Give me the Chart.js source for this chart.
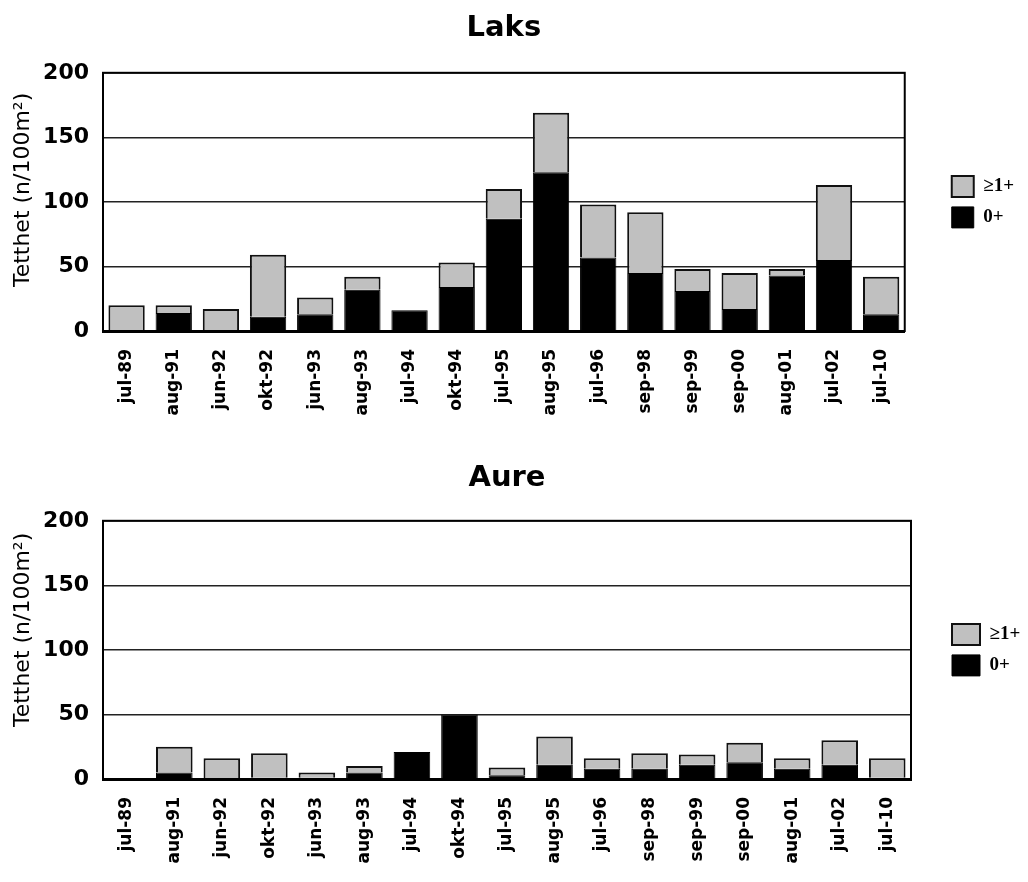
<!DOCTYPE html>
<html>
<head>
<meta charset="utf-8">
<script src="https://cdn.jsdelivr.net/npm/chart.js@4.4.0/dist/chart.umd.min.js"></script>
<style>
  html, body { margin: 0; padding: 0; background: #fff; width: 1028px; height: 882px; overflow: hidden; }
  .panel { position: absolute; left: 0; width: 1028px; height: 441px; }
</style>
</head>
<body>
<div class="panel" style="top:0"><canvas id="laks"></canvas></div>
<div class="panel" style="top:441px"><canvas id="aure"></canvas></div>
<script>
// Sampling dates
const categories = ['jul-89', 'aug-91', 'jun-92', 'okt-92', 'jun-93', 'aug-93', 'jul-94', 'okt-94', 'jul-95',
                    'aug-95', 'jul-96', 'sep-98', 'sep-99', 'sep-00', 'aug-01', 'jul-02', 'jul-10'];

// Density per 100 m², salmon (Laks)
const laksYoung = [0, 14, 0, 11, 13, 32, 16, 34, 87, 123, 57, 45, 31, 17, 43, 55, 13];   // 0+
const laksOlder = [20, 6, 17, 48, 13, 10, 0, 19, 23, 46, 41, 47, 17, 28, 5, 58, 29];     // ≥1+

// Density per 100 m², trout (Aure)
const aureYoung = [0, 5, 0, 1, 1, 5, 21, 50, 3, 11, 8, 8, 11, 13, 8, 11, 1];             // 0+
const aureOlder = [0, 20, 16, 19, 4, 5, 0, 0, 6, 22, 8, 12, 8, 15, 8, 19, 15];           // ≥1+

const yTicks = [0, 50, 100, 150, 200];
const seriesNames = ['0+', '≥1+'];
const yTitle = 'Tetthet (n/100m²)';

const FONT = "'DejaVu Sans', Verdana, sans-serif";

// Box around the plotting area plus the rotated y-axis title
const framePlugin = {
  id: 'frame',
  afterDatasetsDraw(chart) {
    const { ctx, chartArea: a } = chart;
    ctx.save();
    ctx.strokeStyle = '#000';
    ctx.lineWidth = 2;
    ctx.strokeRect(a.left, a.top, a.right - a.left, a.bottom - a.top);
    ctx.restore();
  },
  afterDraw(chart, args, opts) {
    const { ctx, chartArea: a } = chart;
    ctx.save();
    ctx.translate(opts.titleX, (a.top + a.bottom) / 2 + opts.titleShift);
    ctx.rotate(-Math.PI / 2);
    ctx.font = '22px ' + FONT;
    ctx.fillStyle = '#000';
    ctx.textAlign = 'center';
    ctx.textBaseline = 'middle';
    ctx.fillText(yTitle, 0, 0);
    ctx.restore();
  }
};

function makeChart(id, title, young, older, o) {
  return new Chart(document.getElementById(id), {
    type: 'bar',
    data: {
      labels: categories,
      datasets: [
        { label: seriesNames[0], data: young, backgroundColor: '#000', borderColor: '#000', borderWidth: 1,
          categoryPercentage: 1, barPercentage: 0.77 },
        { label: seriesNames[1], data: older, backgroundColor: '#c0c0c0', borderColor: '#111', borderWidth: 2,
          categoryPercentage: 1, barPercentage: 0.77 }
      ]
    },
    plugins: [framePlugin],
    options: {
      responsive: true,
      maintainAspectRatio: false,
      animation: false,
      layout: { padding: { left: 0, right: o.padRight, top: 0, bottom: 0 } },
      plugins: {
        frame: { titleX: 23, titleShift: o.titleShift },
        title: {
          display: true, text: title, fullSize: false, color: '#000',
          font: { family: FONT, size: 29, weight: 'bold' },
          padding: { top: o.tTop, bottom: o.tBottom }
        },
        legend: {
          position: 'right', reverse: true, fullSize: false, maxWidth: o.legendW,
          labels: {
            boxWidth: o.boxW, boxHeight: 21, padding: 10, color: '#000',
            font: { family: "'Liberation Serif', 'Times New Roman', serif", size: 19, weight: 'bold' }
          }
        },
        tooltip: { enabled: false }
      },
      scales: {
        x: {
          stacked: true,
          grid: { display: false, drawTicks: false },
          border: { display: true, color: '#000', width: 3 },
          ticks: {
            color: '#000', autoSkip: false, maxRotation: 90, minRotation: 90, padding: 18,
            font: { family: FONT, size: 17, weight: 'bold' }
          },
          afterFit: s => { s.height = o.xH; }
        },
        y: {
          stacked: true, min: yTicks[0], max: yTicks[yTicks.length - 1],
          afterBuildTicks: s => { s.ticks = yTicks.map(v => ({ value: v })); },
          ticks: { color: '#000', padding: 14, font: { family: FONT, size: 22, weight: 'bold' } },
          grid: { color: '#222', lineWidth: 1.5, drawTicks: false },
          border: { color: '#000', width: 2 },
          afterFit: s => { s.width = 103; }
        },
        yR: {
          position: 'right', display: true,
          ticks: { display: false },
          grid: { display: false, drawTicks: false },
          border: { display: false },
          afterFit: s => { s.width = o.gap; }
        }
      }
    }
  });
}

makeChart('laks', 'Laks', laksYoung, laksOlder,
  { padRight: 4, legendW: 87, gap: 37, boxW: 22, tTop: 11, tBottom: 27, xH: 110, titleShift: -12 });
makeChart('aure', 'Aure', aureYoung, aureOlder,
  { padRight: 0, legendW: 86, gap: 31, boxW: 28, tTop: 20, tBottom: 25, xH: 103, titleShift: -20 });
</script>
</body>
</html>
